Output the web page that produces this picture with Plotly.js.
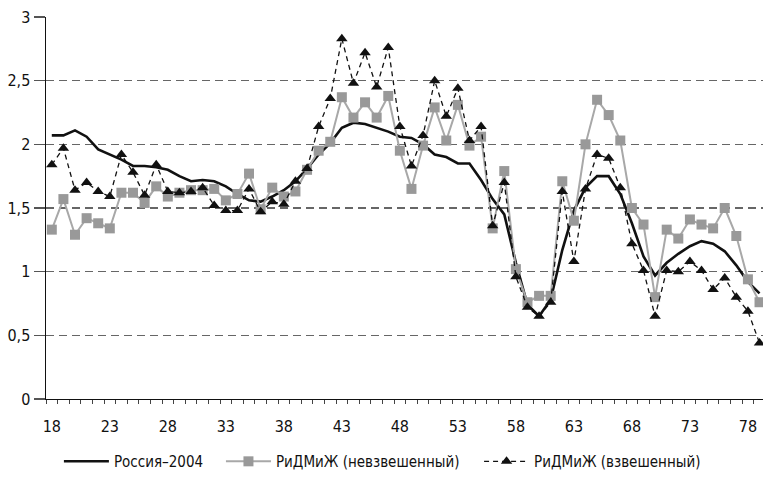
<!DOCTYPE html>
<html>
<head>
<meta charset="utf-8">
<script src="https://cdn.plot.ly/plotly-3.0.1.min.js"></script>
<style>html,body{margin:0;padding:0;background:#fff;}#chart{width:763px;height:479px;}</style>
</head>
<body>
<div id="chart"></div>
<script>
// Ages 18..79
var ages = [];
for (var a = 18; a <= 79; a++) ages.push(a);

var russia2004 = [2.07,2.07,2.11,2.06,1.96,1.92,1.88,1.83,1.83,1.82,1.80,1.75,1.71,1.72,1.71,1.67,
  1.61,1.56,1.55,1.59,1.64,1.71,1.81,1.92,2.01,2.13,2.17,2.16,2.13,2.10,2.06,2.05,2.00,1.92,1.90,1.85,1.85,1.72,
  1.57,1.45,1.07,0.74,0.65,0.78,1.17,1.48,1.66,1.75,1.75,1.61,1.38,1.12,0.97,1.07,1.14,1.20,1.24,1.22,1.16,1.05,0.92,0.83];

var unweighted = [1.33,1.57,1.29,1.42,1.38,1.34,1.62,1.62,1.54,1.67,1.59,1.62,1.64,1.64,1.65,1.56,
  1.61,1.77,1.49,1.66,1.59,1.63,1.80,1.95,2.02,2.37,2.21,2.33,2.21,2.38,1.95,1.65,1.99,2.29,2.03,2.31,1.99,2.06,
  1.34,1.79,1.02,0.76,0.81,0.81,1.71,1.40,2.00,2.35,2.23,2.03,1.50,1.37,0.80,1.33,1.26,1.41,1.37,1.34,1.50,1.28,0.94,0.76];

var weighted = [1.84,1.97,1.64,1.70,1.63,1.59,1.92,1.78,1.60,1.84,1.63,1.62,1.63,1.66,1.52,1.48,
  1.48,1.65,1.47,1.55,1.53,1.71,1.81,2.14,2.36,2.83,2.48,2.72,2.45,2.76,2.14,1.83,2.07,2.50,2.22,2.44,2.03,2.14,
  1.36,1.70,0.96,0.72,0.65,0.76,1.63,1.08,1.65,1.92,1.89,1.66,1.22,1.01,0.65,1.01,1.00,1.08,1.01,0.86,0.95,0.80,0.69,0.44];

var seriesNames = ['Россия–2004', 'РиДМиЖ (невзвешенный)', 'РиДМиЖ (взвешенный)'];
var xTickVals = [18,23,28,33,38,43,48,53,58,63,68,73,78];
var yTickVals = [0,0.5,1,1.5,2,2.5,3];

var FONT = '"Liberation Sans Narrow", "DejaVu Sans Condensed", Arial, sans-serif';

var traces = [
  {x: ages, y: russia2004, name: seriesNames[0], type: 'scatter', mode: 'lines',
   line: {color: '#111111', width: 2.6}, legend: 'legend'},
  {x: ages, y: unweighted, name: seriesNames[1], type: 'scatter', mode: 'lines+markers',
   line: {color: '#a8a8a8', width: 2}, marker: {symbol: 'square', size: 10, color: '#999999'}, legend: 'legend2'},
  {x: ages, y: weighted, name: seriesNames[2], type: 'scatter', mode: 'lines+markers',
   line: {color: '#111111', width: 1.3, dash: '5px,4px'}, marker: {symbol: 'triangle-up', size: 10, color: '#111111'}, legend: 'legend3'}
];

var legendCommon = {orientation: 'h', yanchor: 'bottom', y: -0.207, xanchor: 'left',
  font: {family: FONT, size: 15, color: '#111'}, bgcolor: 'rgba(0,0,0,0)', itemwidth: 45, borderwidth: 0};

var layout = {
  width: 763, height: 479,
  margin: {l: 46, r: 0, t: 17, b: 80},
  paper_bgcolor: '#fff', plot_bgcolor: '#fff',
  separators: ', ',
  font: {family: FONT, size: 15, color: '#111'},
  showlegend: true,
  xaxis: {
    range: [17.5, 79.3], tickmode: 'array', tickvals: xTickVals, ticks: '',
    automargin: false,
    showgrid: false, zeroline: false, showline: true, linecolor: '#111', linewidth: 1.2,
    ticklabelstandoff: 13,
    minor: {tick0: 17.5, dtick: 1, ticks: 'outside', ticklen: 4, tickcolor: '#444', tickwidth: 1, showgrid: false},
    tickfont: {family: FONT, size: 16, color: '#111'}
  },
  yaxis: {
    range: [0, 3], tickmode: 'array', tickvals: yTickVals,
    automargin: false,
    ticks: 'outside', ticklen: 11, tickcolor: '#555', tickwidth: 1.2,
    showgrid: true, gridcolor: '#666', gridwidth: 1.2, griddash: '8px,5px',
    zeroline: false, showline: true, linecolor: '#111', linewidth: 1.5,
    tickfont: {family: FONT, size: 16, color: '#111'}
  },
  legend: Object.assign({}, legendCommon, {x: 0.018}),
  legend2: Object.assign({}, legendCommon, {x: 0.244}),
  legend3: Object.assign({}, legendCommon, {x: 0.604})
};

Plotly.newPlot('chart', traces, layout, {displayModeBar: false, staticPlot: true});
</script>
</body>
</html>
